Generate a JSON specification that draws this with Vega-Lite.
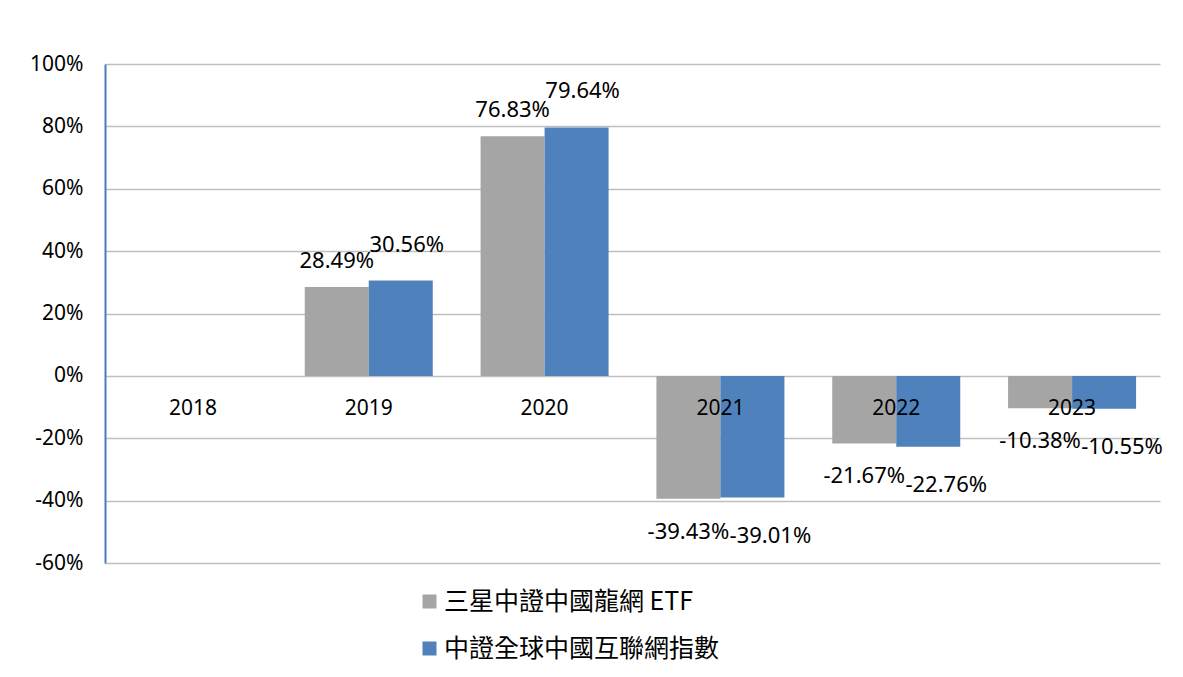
{
  "$schema": "https://vega.github.io/schema/vega-lite/v6.json",
  "width": 1055,
  "height": 499,
  "autosize": "none",
  "padding": {"left": 105, "top": 64, "right": 23, "bottom": 114},
  "background": "white",
  "config": {
    "view": {"stroke": null},
    "font": "Noto Sans",
    "text": {"font": "Noto Sans", "fontSize": 22, "color": "#000000"}
  },
  "data": {
    "values": [
      {"year": "2019", "series": "三星中證中國龍網 ETF", "value": 28.49},
      {"year": "2019", "series": "中證全球中國互聯網指數", "value": 30.56},
      {"year": "2020", "series": "三星中證中國龍網 ETF", "value": 76.83},
      {"year": "2020", "series": "中證全球中國互聯網指數", "value": 79.64},
      {"year": "2021", "series": "三星中證中國龍網 ETF", "value": -39.43},
      {"year": "2021", "series": "中證全球中國互聯網指數", "value": -39.01},
      {"year": "2022", "series": "三星中證中國龍網 ETF", "value": -21.67},
      {"year": "2022", "series": "中證全球中國互聯網指數", "value": -22.76},
      {"year": "2023", "series": "三星中證中國龍網 ETF", "value": -10.38},
      {"year": "2023", "series": "中證全球中國互聯網指數", "value": -10.55}
    ]
  },
  "transform": [{"calculate": "datum.value + '%'", "as": "label"}],
  "encoding": {
    "x": {
      "field": "year",
      "type": "nominal",
      "scale": {"domain": ["2018", "2019", "2020", "2021", "2022", "2023"], "paddingInner": 0.272, "paddingOuter": 0.136},
      "axis": {
        "title": null,
        "labelAngle": 0,
        "offset": -188,
        "domain": false,
        "ticks": false,
        "tickSize": 0,
        "grid": false,
        "zindex": 2,
        "labelPadding": 33,
        "labelBaseline": "middle",
        "labelFont": "Noto Sans",
        "labelFontSize": 21,
        "labelColor": "#000000"
      }
    },
    "xOffset": {
      "field": "series",
      "type": "nominal",
      "scale": {"domain": ["三星中證中國龍網 ETF", "中證全球中國互聯網指數"], "paddingInner": 0, "paddingOuter": 0}
    },
    "y": {
      "field": "value",
      "type": "quantitative",
      "scale": {"domain": [-60, 100], "nice": false, "zero": false},
      "axis": {
        "title": null,
        "values": [-60, -40, -20, 0, 20, 40, 60, 80, 100],
        "labelExpr": "datum.value + '%'",
        "ticks": false,
        "domainColor": "#4a7ebb",
        "domainWidth": 2,
        "grid": true,
        "gridColor": "#bfbfbf",
        "gridWidth": 1.5,
        "labelFont": "Noto Sans",
        "labelFontSize": 21,
        "labelColor": "#000000",
        "labelPadding": 22
      }
    }
  },
  "layer": [
    {
      "mark": {"type": "bar"},
      "encoding": {
        "y2": {"datum": 0},
        "color": {
          "field": "series",
          "type": "nominal",
          "scale": {"domain": ["三星中證中國龍網 ETF", "中證全球中國互聯網指數"], "range": ["#a5a5a5", "#4f81bd"]},
          "legend": {
            "title": null,
            "orient": "none",
            "legendX": 312,
            "legendY": 525,
            "direction": "vertical",
            "symbolType": "square",
            "symbolSize": 196,
            "symbolStrokeWidth": 0,
            "labelFont": "Noto Sans CJK TC",
            "labelFontSize": 25,
            "labelColor": "#000000",
            "labelLimit": 600,
            "labelOffset": 2,
            "rowPadding": 21
          }
        }
      }
    },
    {
      "transform": [{"filter": "datum.series === '三星中證中國龍網 ETF' && datum.value > 0"}],
      "mark": {"type": "text", "baseline": "middle", "dy": -26},
      "encoding": {"text": {"field": "label"}}
    },
    {
      "transform": [{"filter": "datum.series === '三星中證中國龍網 ETF' && datum.value < 0"}],
      "mark": {"type": "text", "baseline": "middle", "dy": 33},
      "encoding": {"text": {"field": "label"}}
    },
    {
      "transform": [{"filter": "datum.series === '中證全球中國互聯網指數' && datum.value > 0"}],
      "mark": {"type": "text", "baseline": "middle", "dy": -36, "dx": 6},
      "encoding": {"text": {"field": "label"}}
    },
    {
      "transform": [{"filter": "datum.series === '中證全球中國互聯網指數' && datum.value < 0"}],
      "mark": {"type": "text", "baseline": "middle", "dy": 38, "dx": 18},
      "encoding": {"text": {"field": "label"}}
    }
  ]
}
